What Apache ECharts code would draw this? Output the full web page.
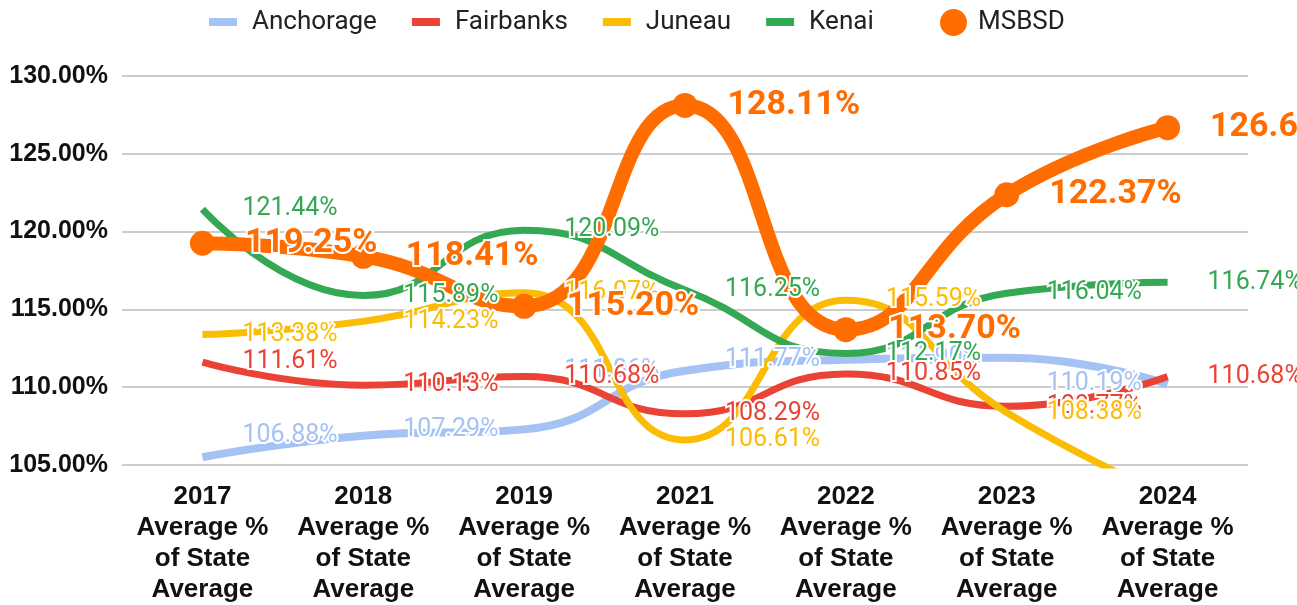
<!DOCTYPE html>
<html>
<head>
<meta charset="utf-8">
<script src="https://cdn.jsdelivr.net/npm/echarts@6/dist/echarts.min.js"></script>
<style>
  html, body { margin: 0; padding: 0; background: #fff; }
  #main { width: 1297px; height: 605px; }
</style>
</head>
<body>
<div id="main"></div>
<script>
// categories on the x axis
var categories = [
    '2017\nAverage %\nof State\nAverage',
    '2018\nAverage %\nof State\nAverage',
    '2019\nAverage %\nof State\nAverage',
    '2021\nAverage %\nof State\nAverage',
    '2022\nAverage %\nof State\nAverage',
    '2023\nAverage %\nof State\nAverage',
    '2024\nAverage %\nof State\nAverage'
];
// Anchorage: the drawn line sits one year to the right of its labels in the source chart
var anchorageLine   = [105.50, 106.88, 107.29, 111.06, 111.77, 111.90, 110.19];
var anchorageLabels = [106.88, 107.29, 111.06, 111.77, 111.90, 110.19, null];
var fairbanks = [111.61, 110.13, 110.68, 108.29, 110.85, 108.77, 110.68];
var juneau    = [113.38, 114.23, 116.07, 106.61, 115.59, 108.38, 103.00];
var kenai     = [121.44, 115.89, 120.09, 116.25, 112.17, 116.04, 116.74];
var msbsd     = [119.25, 118.41, 115.20, 128.11, 113.70, 122.37, 126.68];
var yTicks = { min: 105, max: 130, step: 5 };

var colors = {
    Anchorage: '#a4c2f4',
    Fairbanks: '#ea4335',
    Juneau: '#fbbc04',
    Kenai: '#34a853',
    MSBSD: '#ff6d01'
};

function pct(p) {
    if (p.value == null || p.value < yTicks.min) return '';
    return p.value.toFixed(2) + '%';
}

function dataLabel(color, big) {
    return {
        show: true,
        position: 'right',
        distance: big ? 30 : 40,
        color: color,
        fontFamily: 'Roboto',
        fontSize: big ? 34 : 25,
        fontWeight: big ? 'bold' : 'normal',
        textBorderColor: '#fff',
        textBorderWidth: 4,
        formatter: pct
    };
}

function lineSeries(name, data, width, showLabel) {
    return {
        name: name,
        type: 'line',
        data: data,
        smooth: 0.5,
        symbol: 'circle',
        symbolSize: 0,
        showSymbol: true,
        lineStyle: { color: colors[name], width: width },
        itemStyle: { color: colors[name] },
        label: showLabel ? dataLabel(colors[name], false) : { show: false },
        emphasis: { disabled: true }
    };
}

var myChart = echarts.init(document.getElementById('main'));
myChart.setOption({
    animation: false,
    legend: [
        {
            data: ['Anchorage', 'Fairbanks', 'Juneau', 'Kenai'],
            left: 204,
            top: 4,
            icon: 'rect',
            itemWidth: 28,
            itemHeight: 8,
            itemGap: 35,
            textStyle: { fontFamily: 'Roboto', fontSize: 26, color: '#222', padding: [0, 0, 0, 10] }
        },
        {
            data: ['MSBSD'],
            left: 935,
            top: 4,
            icon: 'circle',
            itemWidth: 27,
            itemHeight: 27,
            textStyle: { fontFamily: 'Roboto', fontSize: 26, color: '#222', padding: [0, 0, 0, 6] }
        }
    ],
    grid: {
        left: 122,
        right: 49,
        top: 76,
        bottom: 137
    },
    xAxis: {
        type: 'category',
        data: categories,
        axisLine: { show: false },
        axisTick: { show: false },
        axisLabel: {
            margin: 16,
            interval: 0,
            fontFamily: 'Liberation Sans',
            fontWeight: 'bold',
            fontSize: 26,
            lineHeight: 31,
            color: '#111'
        }
    },
    yAxis: {
        type: 'value',
        min: yTicks.min,
        max: yTicks.max,
        interval: yTicks.step,
        axisLine: { show: false },
        axisTick: { show: false },
        splitLine: { lineStyle: { color: '#cccccc', width: 2 } },
        axisLabel: {
            margin: 14,
            fontFamily: 'Liberation Sans',
            fontWeight: 'bold',
            fontSize: 25,
            color: '#111',
            formatter: function (v) { return v.toFixed(2) + '%'; }
        }
    },
    series: [
        lineSeries('Anchorage', anchorageLine, 8, false),
        {
            name: 'Anchorage',
            type: 'line',
            data: anchorageLabels,
            symbol: 'circle',
            symbolSize: 0,
            lineStyle: { width: 0, opacity: 0 },
            itemStyle: { color: colors.Anchorage },
            label: dataLabel(colors.Anchorage, false),
            emphasis: { disabled: true }
        },
        lineSeries('Fairbanks', fairbanks, 7, true),
        lineSeries('Juneau', juneau, 7, true),
        lineSeries('Kenai', kenai, 7, true),
        {
            name: 'MSBSD',
            type: 'line',
            data: msbsd,
            smooth: 0.5,
            symbol: 'circle',
            symbolSize: 25,
            lineStyle: { color: colors.MSBSD, width: 14 },
            itemStyle: { color: colors.MSBSD },
            label: dataLabel(colors.MSBSD, true),
            emphasis: { disabled: true }
        }
    ]
});
</script>
</body>
</html>
